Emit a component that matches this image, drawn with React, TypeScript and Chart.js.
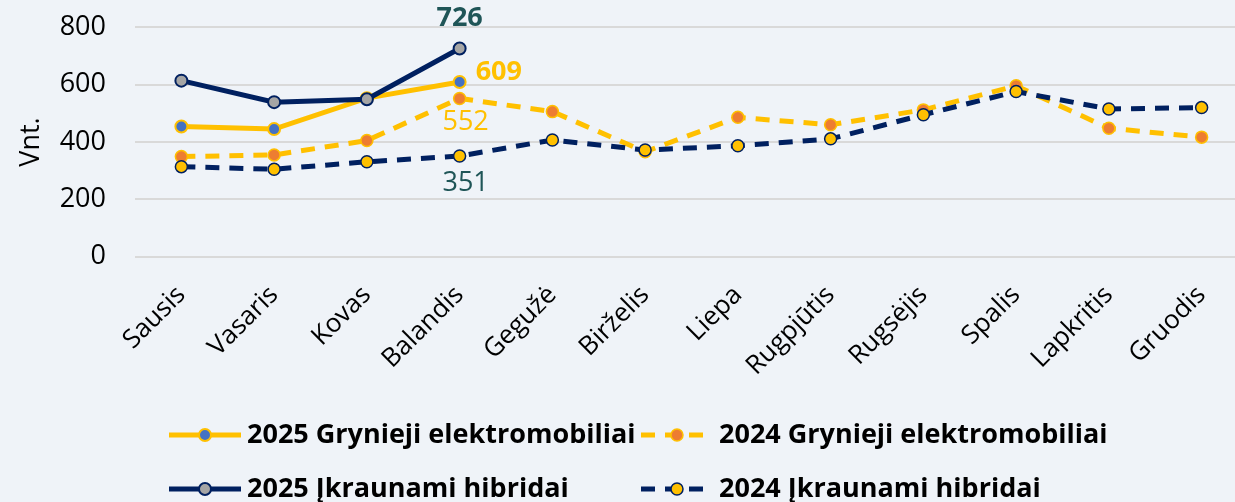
import React, { useEffect, useRef } from "react";
import { Chart, registerables } from "chart.js";

Chart.register(...registerables);

// ---------- data ----------
const months = [
  "Sausis", "Vasaris", "Kovas", "Balandis", "Gegužė", "Birželis",
  "Liepa", "Rugpjūtis", "Rugsėjis", "Spalis", "Lapkritis", "Gruodis",
];
const seriesNames = [
  "2025 Grynieji elektromobiliai",
  "2024 Grynieji elektromobiliai",
  "2025 Įkraunami hibridai",
  "2024 Įkraunami hibridai",
];
const ev2025 = [454, 445, 553, 609];
const ev2024 = [349, 355, 405, 552, 506, 366, 486, 460, 512, 596, 448, 417];
const phev2025 = [614, 539, 549, 726];
const phev2024 = [314, 305, 331, 351, 407, 372, 387, 411, 495, 576, 515, 520];
const yTicks = [0, 200, 400, 600, 800];
const yTitle = "Vnt.";

// ---------- styles ----------
const FONT = "'Open Sans', sans-serif";
const YELLOW = "#FFC000";
const NAVY = "#002060";
const BLUE = "#4472C4";
const ORANGE = "#ED7D31";
const GREY = "#A5A5A5";
const TEAL = "#1F5557";
const BG = "#EFF3F8";
const DASH = [14, 10];

// data-label specs: dataset index, point index, style/offset
const labelSpecs = [
  { ds: 2, idx: 3, color: TEAL, bold: true, dx: 0, dy: -30, align: "center" },
  { ds: 0, idx: 3, color: YELLOW, bold: true, dx: 16, dy: -10, align: "left" },
  { ds: 1, idx: 3, color: YELLOW, bold: false, dx: 6, dy: 24, align: "center" },
  { ds: 3, idx: 3, color: TEAL, bold: false, dx: 6, dy: 27, align: "center" },
];

const dataLabelPlugin = {
  id: "dataLabels",
  afterDatasetsDraw(chart: any) {
    const ctx = chart.ctx;
    labelSpecs.forEach((s) => {
      const meta = chart.getDatasetMeta(s.ds);
      const pt = meta.data[s.idx];
      if (!pt) return;
      const v = chart.data.datasets[s.ds].data[s.idx];
      ctx.save();
      ctx.font = `${s.bold ? "bold " : ""}27px ${FONT}`;
      ctx.fillStyle = s.color;
      ctx.textAlign = s.align;
      ctx.textBaseline = "middle";
      ctx.fillText(String(v), pt.x + s.dx, pt.y + s.dy);
      ctx.restore();
    });
  },
};

const legendPlugin = {
  id: "gridLegend",
  afterDraw(chart: any) {
    const ctx = chart.ctx;
    const cols = [169, 641];
    const rows = [435, 489];
    chart.data.datasets.forEach((ds: any, i: number) => {
      const x = cols[i % 2];
      const y = rows[Math.floor(i / 2)];
      ctx.save();
      ctx.strokeStyle = ds.borderColor;
      ctx.lineWidth = ds.borderWidth;
      ctx.setLineDash(ds.borderDash || []);
      ctx.beginPath();
      ctx.moveTo(x, y);
      ctx.lineTo(x + 72, y);
      ctx.stroke();
      ctx.setLineDash([]);
      ctx.beginPath();
      ctx.arc(x + 36, y, ds.pointRadius, 0, Math.PI * 2);
      ctx.fillStyle = ds.pointBackgroundColor;
      ctx.fill();
      ctx.lineWidth = ds.pointBorderWidth;
      ctx.strokeStyle = ds.pointBorderColor;
      ctx.stroke();
      ctx.fillStyle = "#000";
      ctx.font = `bold 27px ${FONT}`;
      ctx.textAlign = "left";
      ctx.textBaseline = "middle";
      ctx.fillText(ds.label, x + 78, y);
      ctx.restore();
    });
  },
};

export default function App() {
  const ref = useRef<HTMLCanvasElement>(null);

  useEffect(() => {
    if (!ref.current) return;
    const chart = new Chart(ref.current, {
      type: "line",
      data: {
        labels: months,
        datasets: [
          {
            label: seriesNames[0],
            data: ev2025,
            borderColor: YELLOW,
            borderWidth: 5,
            pointBackgroundColor: BLUE,
            pointBorderColor: YELLOW,
            pointBorderWidth: 2,
            pointRadius: 6,
            order: 1,
          },
          {
            label: seriesNames[1],
            data: ev2024,
            borderColor: YELLOW,
            borderWidth: 5,
            borderDash: DASH,
            pointBackgroundColor: ORANGE,
            pointBorderColor: YELLOW,
            pointBorderWidth: 1.5,
            pointRadius: 6,
            order: 3,
          },
          {
            label: seriesNames[2],
            data: phev2025,
            borderColor: NAVY,
            borderWidth: 5,
            pointBackgroundColor: GREY,
            pointBorderColor: NAVY,
            pointBorderWidth: 2,
            pointRadius: 6,
            order: 0,
          },
          {
            label: seriesNames[3],
            data: phev2024,
            borderColor: NAVY,
            borderWidth: 5,
            borderDash: DASH,
            pointBackgroundColor: YELLOW,
            pointBorderColor: NAVY,
            pointBorderWidth: 1.5,
            pointRadius: 6,
            order: 2,
          },
        ] as any,
      },
      options: {
        responsive: false,
        animation: false,
        events: [],
        layout: { padding: { top: 27.3, right: 0, bottom: 0, left: 0 } },
        plugins: {
          legend: { display: false },
          tooltip: { enabled: false },
        },
        scales: {
          x: {
            offset: true,
            grid: { display: false, drawTicks: false },
            border: { display: false },
            ticks: {
              autoSkip: false,
              minRotation: 45,
              maxRotation: 45,
              padding: 23,
              color: "#000",
              font: { family: FONT, size: 26 },
            },
            afterFit: (s: any) => {
              s.height = 245.3;
            },
          },
          y: {
            min: yTicks[0],
            max: yTicks[yTicks.length - 1],
            afterBuildTicks: (s: any) => {
              s.ticks = yTicks.map((v) => ({ value: v }));
            },
            grid: { color: "#D9D9D9", lineWidth: 2, drawTicks: false },
            border: { display: false },
            ticks: {
              padding: 29,
              color: "#000",
              font: { family: FONT, size: 27 },
            },
            title: {
              display: true,
              text: yTitle,
              color: "#000",
              font: { family: FONT, size: 27 },
              padding: { top: 15, bottom: 0 },
            },
            afterFit: (s: any) => {
              s.width = 135;
              s.paddingTop = 0;
              s.paddingBottom = 0;
            },
          },
        },
      } as any,
      plugins: [dataLabelPlugin, legendPlugin],
    });
    return () => chart.destroy();
  }, []);

  return (
    <div
      style={{
        position: "fixed",
        left: 0,
        top: 0,
        width: 1235,
        height: 502,
        overflow: "hidden",
        background: BG,
      }}
    >
      <canvas ref={ref} width={1256} height={502} style={{ width: 1256, height: 502, display: "block" }} />
    </div>
  );
}
